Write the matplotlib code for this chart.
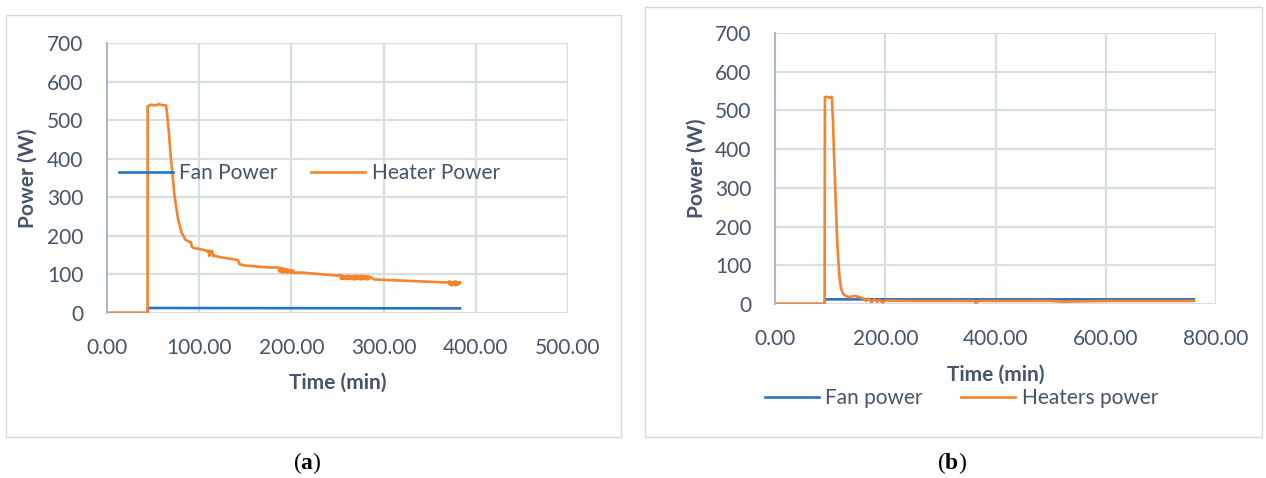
import matplotlib.pyplot as plt
from matplotlib.patches import Rectangle

# ---- data ----
# (a) first test
fan_a_t = [0, 44, 44.5, 383]
fan_a_p = [0, 0, 13, 12]

heat_a_t = [0, 44, 44.1, 48, 52, 56, 60, 64, 65, 67, 69, 71, 73, 75, 77, 79, 81,
            83, 85, 88, 91, 92, 94, 98, 102, 106, 109, 110, 111, 112, 113, 114,
            115, 116, 117, 118, 125, 135, 142, 144, 150, 160, 170, 180,
            186, 187, 188, 189, 190, 191, 192, 193, 194, 195, 196, 197, 198,
            199, 200, 201, 202, 203,
            210, 220, 230, 240, 250,
            253, 254, 255, 256, 257, 258, 259, 260, 261, 262, 263, 264, 265,
            266, 267, 268, 269, 270, 271, 272, 273, 274, 275, 276, 277, 278,
            279, 280, 281, 282, 283, 284, 285,
            290, 300, 320, 340, 360, 370,
            371, 372, 373, 374, 375, 376, 377, 378, 379, 380, 381, 382, 383]
heat_a_p = [0, 0, 536, 540, 538, 541, 539, 538, 520, 470, 410, 360, 310, 275,
            245, 225, 207, 200, 190, 186, 183, 172, 168, 167, 165, 163, 160,
            162, 148, 160, 158, 161, 147, 150, 148, 147, 144, 140, 137, 126,
            123, 121, 119, 118,
            118, 108, 117, 106, 116, 105, 115, 107, 114, 104, 113, 106, 112,
            104, 111, 105, 110, 104,
            105, 103, 101, 99, 97,
            98, 88, 97, 89, 96, 88, 95, 89, 97, 88, 96, 89, 95, 88, 96, 87,
            97, 88, 96, 89, 95, 88, 96, 87, 97, 89, 95, 88, 96, 87, 95, 88, 94,
            87, 86, 84, 82, 80, 79,
            82, 73, 81, 72, 80, 74, 82, 72, 81, 73, 80, 75, 79]

# (b) second test
fan_b_t = [0, 90, 91, 760]
fan_b_p = [0, 0, 12, 12]

heat_b_t = [0, 90, 90.5, 95, 100, 103, 105, 107, 109, 111, 113, 115, 117, 119,
            121, 124, 127, 130, 135, 140, 145, 150, 155, 160,
            165, 170, 175, 180, 185, 190, 195, 200,
            250, 300, 360, 365, 370, 400, 500, 520, 600, 660, 700, 760]
heat_b_p = [0, 0, 534, 535, 533, 535, 480, 390, 310, 230, 160, 110, 70, 48,
            35, 26, 22, 20, 18, 20, 21, 19, 17, 14,
            8, 14, 5, 12, 6, 10, 4, 9,
            8, 8, 8, 3, 8, 8, 8, 6, 8, 8, 8, 8]

ticks_y = [0, 100, 200, 300, 400, 500, 600, 700]

# ---- styling ----
plt.rcParams['font.family'] = ['Lato', 'DejaVu Sans']
txt = '#44546A'
blue = '#2A72C4'
orange = '#F7832B'
grid = '#D9DEE4'
fs = 15

W, H = 1266, 478
fig = plt.figure(figsize=(12.66, 4.78), dpi=100)


def px_axes(l, r, t, b):
    return fig.add_axes([l / W, 1 - b / H, (r - l) / W, (b - t) / H])


def style(ax, xmax, xstep):
    ax.set_xlim(0, xmax)
    ax.set_ylim(0, 700)
    ax.set_xticks(range(0, xmax + 1, xstep))
    ax.set_xticklabels(['%.2f' % v for v in range(0, xmax + 1, xstep)])
    ax.set_yticks(ticks_y)
    ax.grid(True, color=grid, lw=1.6)
    ax.set_axisbelow(True)
    for s in ['top', 'right', 'bottom']:
        ax.spines[s].set_visible(False)
    ax.spines['left'].set_color('#A9B7CA')
    ax.spines['left'].set_linewidth(1.4)
    ax.tick_params(length=0, labelsize=fs, labelcolor=txt)
    ax.tick_params(axis='y', pad=17)
    ax.tick_params(axis='x', pad=18)
    ax.set_xlabel('Time (min)', fontsize=fs, fontweight='bold', color=txt)
    ax.set_ylabel('Power (W)', fontsize=fs, fontweight='bold', color=txt)


# panel frames
fig.patches.append(Rectangle((6 / W, 1 - 437 / H), 615 / W, 422 / H,
                             transform=fig.transFigure, fill=False,
                             ec='#D9D9D9', lw=1))
fig.patches.append(Rectangle((645 / W, 1 - 437 / H), 617 / W, 430 / H,
                             transform=fig.transFigure, fill=False,
                             ec='#D9D9D9', lw=1))

# ---- (a) ----
ax1 = px_axes(107, 568, 43, 313)
ax1.plot(fan_a_t, fan_a_p, color=blue, lw=1.9, label='Fan Power')
ax1.plot(heat_a_t, heat_a_p, color=orange, lw=1.9, label='Heater Power')
style(ax1, 500, 100)
ax1.yaxis.set_label_coords(-0.150, 0.5)
ax1.xaxis.set_label_coords(0.501, -0.222)
ax1.legend(loc='center left', bbox_to_anchor=(0.026, 0.518), ncol=2,
           frameon=False, fontsize=fs, labelcolor=txt, handlelength=2.6,
           handletextpad=0.3, columnspacing=1.6, borderpad=0, borderaxespad=0)

# ---- (b) ----
ax2 = px_axes(775, 1216, 33, 304)
ax2.plot(fan_b_t, fan_b_p, color=blue, lw=1.9, label='Fan power')
ax2.plot(heat_b_t, heat_b_p, color=orange, lw=1.9, label='Heaters power')
style(ax2, 800, 200)
ax2.yaxis.set_label_coords(-0.154, 0.5)
ax2.xaxis.set_label_coords(0.501, -0.225)
ax2.legend(loc='center left', bbox_to_anchor=(-0.023, -0.347), ncol=2,
           frameon=False, fontsize=fs, labelcolor=txt, handlelength=2.6,
           handletextpad=0.3, columnspacing=1.85, borderpad=0, borderaxespad=0)

# panel captions
plt.rcParams['mathtext.fontset'] = 'custom'
plt.rcParams['mathtext.rm'] = 'Liberation Serif'
plt.rcParams['mathtext.bf'] = 'Liberation Serif:bold'
fig.text(307 / W, 1 - 463 / H, r'$\mathrm{(}\mathbf{a}\mathrm{)}$',
         ha='center', va='center', fontsize=17, color='black')
fig.text(952 / W, 1 - 463 / H, r'$\mathrm{(}\mathbf{b}\mathrm{)}$',
         ha='center', va='center', fontsize=17, color='black')

fig.savefig('out.png', dpi=100)
